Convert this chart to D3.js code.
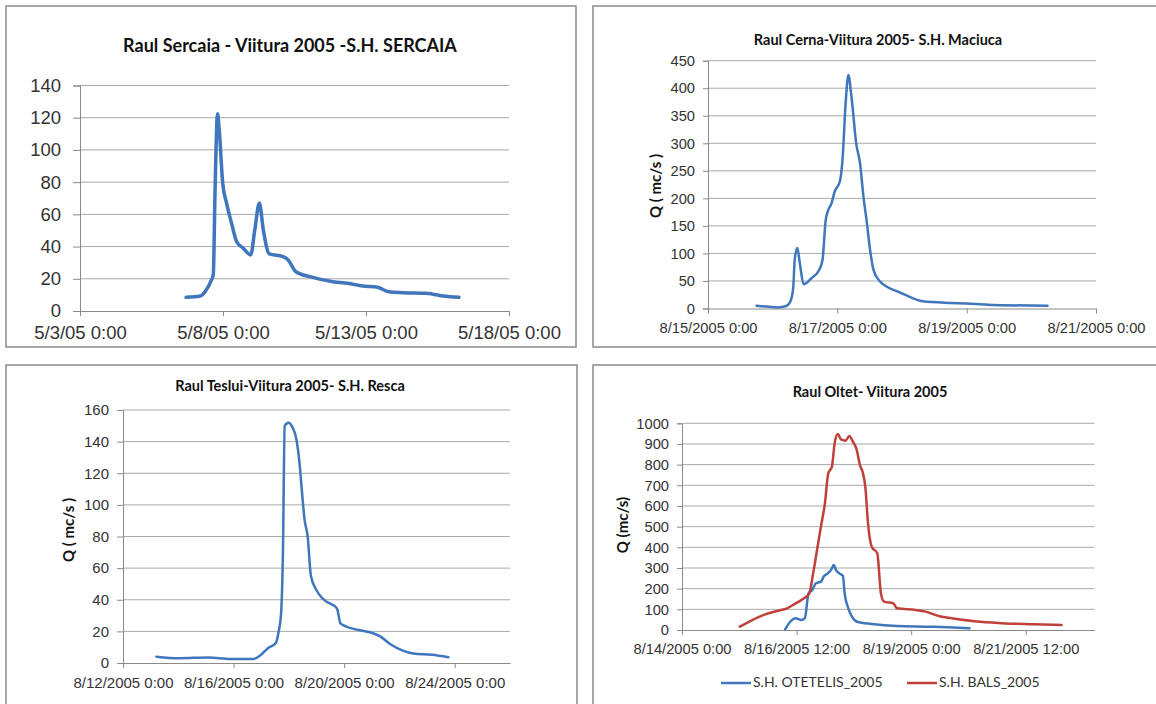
<!DOCTYPE html>
<html lang="en">
<head>
<meta charset="UTF-8">
<title>Viitura 2005</title>
<script src="https://d3js.org/d3.v7.min.js"></script>
<style>
  body { margin: 0; background: #fff; }
  svg { display: block; font-family: Lato, "Open Sans", sans-serif; }
  .tick-label { fill: #333; }
  .title { font-weight: bold; fill: #111; }
</style>
</head>
<body>
<div id="chart"></div>
<script>
// ---- data ----
// Raul Sercaia - S.H. SERCAIA
const sercaiaTimes = ["5/6/2005 17:00","5/7/2005 5:00","5/7/2005 9:00","5/7/2005 14:20","5/7/2005 15:50","5/7/2005 17:20","5/7/2005 19:25",
  "5/7/2005 20:50","5/7/2005 23:45","5/8/2005 3:00","5/8/2005 7:10","5/8/2005 11:30","5/8/2005 17:00","5/8/2005 23:15","5/9/2005 2:40",
  "5/9/2005 6:30","5/9/2005 9:50","5/9/2005 14:50","5/10/2005 2:20","5/10/2005 6:40","5/10/2005 13:10","5/11/2005 1:00","5/11/2005 20:20",
  "5/12/2005 8:40","5/12/2005 21:20","5/13/2005 9:40","5/13/2005 19:10","5/14/2005 7:10","5/15/2005 2:20","5/15/2005 7:10","5/15/2005 16:50","5/16/2005 6:00"];
const sercaiaQ = [8.5,9.3,12,19.3,22.4,75,122.4,112.5,79.4,67,54.5,43,39,34.8,50.3,67,50.3,35.4,33.7,31.7,24.4,21.3,18.2,17.2,15.5,14.7,12,11.4,11,10.6,9.3,8.5];
const sercaiaXTicks = ["5/3/2005 0:00","5/8/2005 0:00","5/13/2005 0:00","5/18/2005 0:00"];
const sercaiaYTicks = [0,20,40,60,80,100,120,140];

// Raul Cerna - S.H. Maciuca
const cernaTimes = ["8/15/2005 18:00","8/15/2005 21:30","8/16/2005 2:00","8/16/2005 5:00","8/16/2005 6:45","8/16/2005 7:40","8/16/2005 8:10",
  "8/16/2005 9:10","8/16/2005 10:05","8/16/2005 11:30","8/16/2005 14:25","8/16/2005 17:15","8/16/2005 18:30","8/16/2005 19:40","8/16/2005 20:40",
  "8/16/2005 21:50","8/16/2005 23:00","8/17/2005 1:00","8/17/2005 1:55","8/17/2005 3:05","8/17/2005 4:05","8/17/2005 5:15","8/17/2005 7:00",
  "8/17/2005 8:25","8/17/2005 9:50","8/17/2005 10:50","8/17/2005 12:00","8/17/2005 13:25","8/17/2005 15:50","8/17/2005 18:15","8/17/2005 23:15",
  "8/18/2005 1:00","8/18/2005 7:40","8/18/2005 18:15","8/19/2005 0:00","8/19/2005 7:40","8/20/2005 6:00"];
const cernaQ = [5,3.5,2,4.5,15,40,88,110,82,44,55,70,88,160,179,191,212,232,270,373,424,385,300,264,197,161,112,70,49,40,29,25,13,10,9,7,5];
const cernaXTicks = ["8/15/2005 0:00","8/17/2005 0:00","8/19/2005 0:00","8/21/2005 0:00"];
const cernaYTicks = [0,50,100,150,200,250,300,350,400,450];

// Raul Teslui - S.H. Resca
const tesluiTimes = ["8/13/2005 5:00","8/14/2005 0:30","8/15/2005 2:10","8/15/2005 21:35","8/16/2005 17:00","8/16/2005 23:30","8/17/2005 6:00",
  "8/17/2005 12:30","8/17/2005 14:55","8/17/2005 17:15","8/17/2005 18:45","8/17/2005 20:25","8/17/2005 23:45","8/18/2005 2:50","8/18/2005 6:40",
  "8/18/2005 9:20","8/18/2005 11:00","8/18/2005 13:40","8/18/2005 16:20","8/18/2005 19:10","8/19/2005 0:00","8/19/2005 6:30","8/19/2005 17:45",
  "8/19/2005 20:50","8/20/2005 2:00","8/20/2005 11:45","8/21/2005 0:30","8/21/2005 7:00","8/21/2005 16:50","8/22/2005 2:25","8/22/2005 12:00",
  "8/23/2005 4:05","8/23/2005 18:30"];
const tesluiQ = [4,3,3.5,2.5,2.5,5,9.5,12.5,19,31.5,65,150,152,149.5,141,126,111.5,90.5,80,55,46,40,34.5,25,23,21,19,17,11.5,8,6,5.2,3.7];
const tesluiXTicks = ["8/12/2005 0:00","8/16/2005 0:00","8/20/2005 0:00","8/24/2005 0:00"];
const tesluiYTicks = [0,20,40,60,80,100,120,140,160];

// Raul Oltet - two stations
const otetelisTimes = ["8/16/2005 6:00","8/16/2005 8:40","8/16/2005 11:30","8/16/2005 14:25","8/16/2005 16:20","8/16/2005 18:15","8/16/2005 20:10",
  "8/16/2005 22:05","8/17/2005 0:45","8/17/2005 2:25","8/17/2005 4:20","8/17/2005 6:15","8/17/2005 7:25","8/17/2005 8:55","8/17/2005 10:20",
  "8/17/2005 12:15","8/17/2005 13:10","8/17/2005 15:05","8/17/2005 17:00","8/17/2005 19:40","8/18/2005 3:20","8/18/2005 16:35","8/19/2005 11:30","8/20/2005 6:30"];
const otetelisQ = [3,40,57,48,57,177,193,226,234,261,274,293,314,286,274,261,177,105,65,40,29,19,16,8];
const balsTimes = ["8/15/2005 6:15","8/15/2005 12:45","8/15/2005 18:30","8/16/2005 2:10","8/16/2005 7:00","8/16/2005 11:30","8/16/2005 15:20",
  "8/16/2005 18:40","8/16/2005 20:40","8/16/2005 23:00","8/17/2005 0:45","8/17/2005 2:50","8/17/2005 4:35","8/17/2005 6:30","8/17/2005 7:55",
  "8/17/2005 9:35","8/17/2005 11:15","8/17/2005 13:40","8/17/2005 15:35","8/17/2005 17:30","8/17/2005 19:25","8/17/2005 21:20","8/17/2005 22:35",
  "8/18/2005 0:00","8/18/2005 1:25","8/18/2005 3:20","8/18/2005 6:15","8/18/2005 8:10","8/18/2005 9:50","8/18/2005 14:40","8/18/2005 16:35",
  "8/19/2005 2:10","8/19/2005 7:40","8/19/2005 15:20","8/19/2005 21:10","8/20/2005 12:15","8/21/2005 1:25","8/21/2005 16:35","8/22/2005 6:45"];
const balsQ = [16,48,72,93,105,129,150,177,274,403,500,613,758,790,903,948,922,916,939,911,874,793,765,692,515,403,371,177,137,129,105,97,89,65,57,40,32,28,24];
const oltetXTicks = ["8/14/2005 0:00","8/16/2005 12:00","8/19/2005 0:00","8/21/2005 12:00"];
const oltetYTicks = [0,100,200,300,400,500,600,700,800,900,1000];
const oltetSeriesNames = ["S.H. OTETELIS_2005","S.H. BALS_2005"];

const BLUE = "#3f76bc", RED = "#c0413c";
const parse = d3.timeParse("%m/%d/%Y %H:%M");

const svg = d3.select("#chart").append("svg").attr("width", 1156).attr("height", 704);

function drawPanel(cfg) {
  const g = svg.append("g");
  g.append("rect")
    .attr("x", cfg.box[0]).attr("y", cfg.box[1]).attr("width", cfg.box[2]).attr("height", cfg.box[3])
    .attr("fill", "#fff").attr("stroke", "#8a8a8a").attr("stroke-width", 1.5);

  const xTicks = cfg.xTicks.map(parse);
  const x = d3.scaleTime().domain([xTicks[0], cfg.xEnd ? parse(cfg.xEnd) : xTicks[xTicks.length - 1]]).range([cfg.x0, cfg.x1]);
  const y = d3.scaleLinear().domain([0, d3.max(cfg.yTicks)]).range([cfg.y0, cfg.yTop]);

  // gridlines
  g.append("g").selectAll("line").data(cfg.yTicks.filter(v => v > 0)).join("line")
    .attr("x1", cfg.x0).attr("x2", cfg.x1).attr("y1", d => y(d)).attr("y2", d => y(d))
    .attr("stroke", "#a9a9a9").attr("stroke-width", 1);

  // y axis
  const ya = g.append("g").attr("transform", `translate(${cfg.x0},0)`)
    .call(d3.axisLeft(y).tickValues(cfg.yTicks).tickSize(cfg.yTick).tickPadding(cfg.yPad).tickFormat(d3.format("d")));
  ya.select(".domain").attr("stroke", "#8a8a8a");
  ya.selectAll(".tick line").attr("stroke", "#8a8a8a");
  ya.selectAll("text").attr("class", "tick-label").style("font-size", cfg.fs + "px").attr("font-family", null);

  // x axis
  const fmt = cfg.short ? d3.timeFormat("%-m/%-d/%y %-H:%M") : d3.timeFormat("%-m/%-d/%Y %-H:%M");
  const xa = g.append("g").attr("transform", `translate(0,${cfg.y0})`)
    .call(d3.axisBottom(x).tickValues(xTicks).tickSize(5).tickPadding(cfg.xPad).tickFormat(fmt).tickSizeOuter(0));
  xa.select(".domain").attr("stroke", "#8a8a8a");
  xa.selectAll(".tick line").attr("stroke", "#8a8a8a");
  xa.selectAll("text").attr("class", "tick-label").style("font-size", cfg.fs + "px").attr("font-family", null);

  // title
  g.append("text").attr("class", "title").attr("x", cfg.title[1]).attr("y", cfg.title[2])
    .attr("text-anchor", "middle").attr("dominant-baseline", "middle")
    .style("font-size", cfg.titleFs + "px").text(cfg.title[0]);

  if (cfg.yLabel) {
    g.append("text").attr("class", "title")
      .attr("transform", `translate(${cfg.yLabel[1]},${cfg.yLabel[2]}) rotate(-90)`)
      .attr("text-anchor", "middle").attr("dominant-baseline", "middle")
      .style("font-size", "15px").text(cfg.yLabel[0]);
  }

  const line = d3.line().x(d => x(d[0])).y(d => y(d[1])).curve(d3.curveMonotoneX);
  cfg.series.forEach(s => {
    const pts = s.times.map((t, i) => [parse(t), s.values[i]]);
    g.append("path").datum(pts).attr("d", line)
      .attr("fill", "none").attr("stroke", s.color).attr("stroke-width", cfg.lw)
      .attr("stroke-linejoin", "round").attr("stroke-linecap", "round");
  });
  return g;
}

drawPanel({
  box: [6, 6, 570, 341], x0: 80, x1: 509, y0: 311, yTop: 85.5,
  xTicks: sercaiaXTicks, yTicks: sercaiaYTicks, short: true,
  fs: 18.5, yTick: 7, yPad: 12, xPad: 10, lw: 3.5, titleFs: 18,
  title: ["Raul Sercaia - Viitura 2005 -S.H. SERCAIA", 290, 47],
  series: [{ times: sercaiaTimes, values: sercaiaQ, color: BLUE }]
});

drawPanel({
  box: [593, 6, 600, 341], x0: 708, x1: 1096, y0: 308.5, yTop: 60.7,
  xTicks: cernaXTicks, yTicks: cernaYTicks,
  fs: 14.7, yTick: 5, yPad: 8, xPad: 9, lw: 2.5, titleFs: 14.5,
  title: ["Raul Cerna-Viitura 2005- S.H. Maciuca", 878, 41],
  yLabel: ["Q ( mc/s )", 657, 186],
  series: [{ times: cernaTimes, values: cernaQ, color: BLUE }]
});

drawPanel({
  box: [6, 365, 571, 350], x0: 123, x1: 510, y0: 663, yTop: 410,
  xTicks: tesluiXTicks, xEnd: "8/26/2005 0:00", yTicks: tesluiYTicks,
  fs: 15, yTick: 6, yPad: 8, xPad: 9, lw: 2.5, titleFs: 14.5,
  title: ["Raul Teslui-Viitura 2005- S.H. Resca", 290, 387],
  yLabel: ["Q ( mc/s )", 70, 530],
  series: [{ times: tesluiTimes, values: tesluiQ, color: BLUE }]
});

const p4 = drawPanel({
  box: [593, 365, 600, 350], x0: 682, x1: 1094.5, y0: 630, yTop: 423.3,
  xTicks: oltetXTicks, xEnd: "8/23/2005 0:00", yTicks: oltetYTicks,
  fs: 14.7, yTick: 5, yPad: 8, xPad: 9, lw: 2.5, titleFs: 14.5,
  title: ["Raul Oltet- Viitura 2005", 870, 393],
  yLabel: ["Q (mc/s)", 624, 525],
  series: [
    { times: otetelisTimes, values: otetelisQ, color: BLUE },
    { times: balsTimes, values: balsQ, color: RED }
  ]
});

// legend for the Oltet panel
const legendX = [721, 907];
const legendColors = [BLUE, RED];
const lg = p4.append("g").selectAll("g").data(oltetSeriesNames).join("g")
  .attr("transform", (d, i) => `translate(${legendX[i]},683)`);
lg.append("line").attr("x1", 0).attr("x2", 30).attr("stroke", (d, i) => legendColors[i]).attr("stroke-width", 2.5);
lg.append("text").attr("x", 32).attr("dominant-baseline", "middle").attr("class", "tick-label")
  .style("font-size", "14px").text(d => d);
</script>
</body>
</html>
